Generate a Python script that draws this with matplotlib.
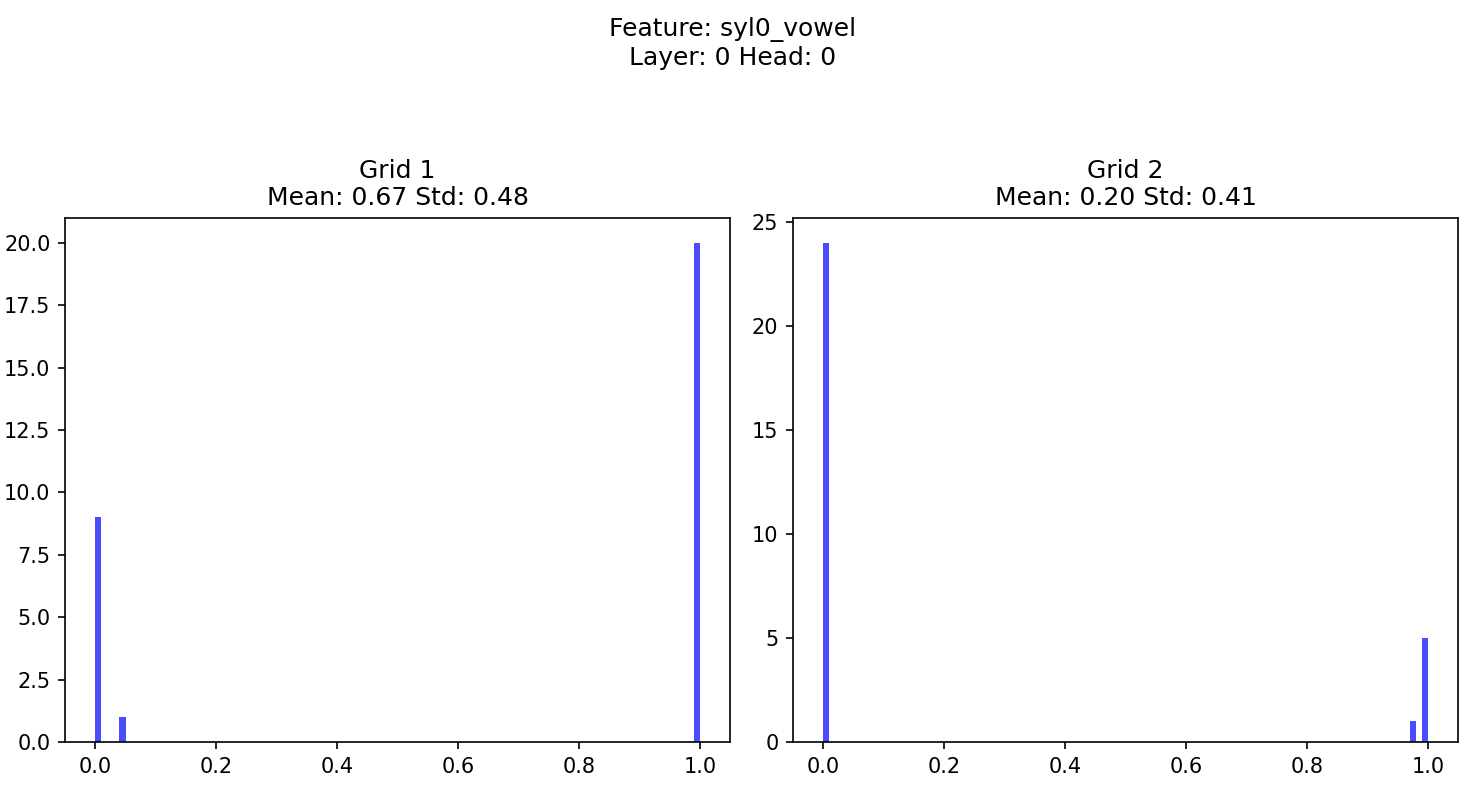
import numpy as np
import matplotlib
matplotlib.use("Agg")
import matplotlib.pyplot as plt

# attention values per grid (value, how many times it occurs)
grid1_vals = [0.0, 0.045, 1.0]
grid1_counts = [9, 1, 20]
grid2_vals = [0.0, 0.975, 1.0]
grid2_counts = [24, 1, 5]

feature = "syl0_vowel"
layer, head = 0, 0
n_bins = 100

grids = [np.repeat(grid1_vals, grid1_counts), np.repeat(grid2_vals, grid2_counts)]

dpi = 150
fig = plt.figure(figsize=(1465 / dpi, 788 / dpi), dpi=dpi)
fig.suptitle("Feature: %s\nLayer: %d Head: %d" % (feature, layer, head), y=0.978)

lefts = [0.0444, 0.5413]
for i, data in enumerate(grids):
    ax = fig.add_axes([lefts[i], 0.0584, 0.454, 0.665])
    ax.hist(data, bins=n_bins, color="blue", alpha=0.7)
    ax.set_title("Grid %d\nMean: %.2f Std: %.2f" % (i + 1, data.mean(), data.std(ddof=1)))

fig.savefig("out.png", dpi=dpi)
